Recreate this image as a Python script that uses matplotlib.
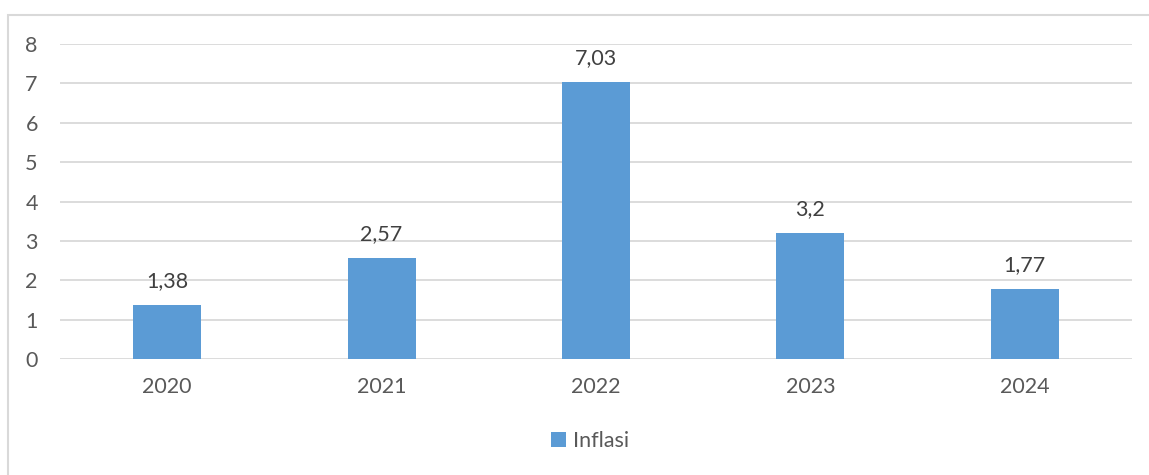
import matplotlib.pyplot as plt
from matplotlib.patches import Rectangle

years = ["2020", "2021", "2022", "2023", "2024"]
inflasi = [1.38, 2.57, 7.03, 3.2, 1.77]
labels = ["1,38", "2,57", "7,03", "3,2", "1,77"]

plt.rcParams["font.family"] = ["Lato", "DejaVu Sans"]
W, H = 1149, 475
fig = plt.figure(figsize=(W / 100, H / 100), dpi=100)

# outer chart frame (runs off the right and bottom edges)
fig.patches.append(Rectangle((8 / W, -0.1), 1.2, (H - 14.5) / H + 0.1,
                             transform=fig.transFigure, fill=False,
                             edgecolor="#d9d9d9", linewidth=1.5))

ax = fig.add_axes([60 / W, (H - 359) / H, (1132 - 60) / W, (359 - 44) / H])
color = "#5b9bd5"
x = range(len(years))
ax.bar(x, inflasi, width=0.317, color=color, zorder=3, label="Inflasi")
for xi, v, t in zip(x, inflasi, labels):
    ax.text(xi, v + 0.35, t, ha="center", va="bottom", fontsize=15.5, color="#404040")

ax.set_xlim(-0.5, len(years) - 0.5)
ax.set_ylim(0, 8)
ax.set_yticks(range(0, 9))
ax.set_xticks(list(x))
ax.set_xticklabels(years)
ax.grid(axis="y", color="#d9d9d9", linewidth=1.3, zorder=0)
for s in ax.spines.values():
    s.set_visible(False)
ax.tick_params(length=0, labelsize=15.5, labelcolor="#595959")
ax.tick_params(axis="y", pad=16)
ax.tick_params(axis="x", pad=13)

fig.legend(loc="center", bbox_to_anchor=(590 / W, (H - 441) / H), frameon=False,
           fontsize=15.5, handlelength=0.7, handleheight=0.7, handletextpad=0.3,
           labelcolor="#595959")

fig.savefig("out.png", dpi=100)
